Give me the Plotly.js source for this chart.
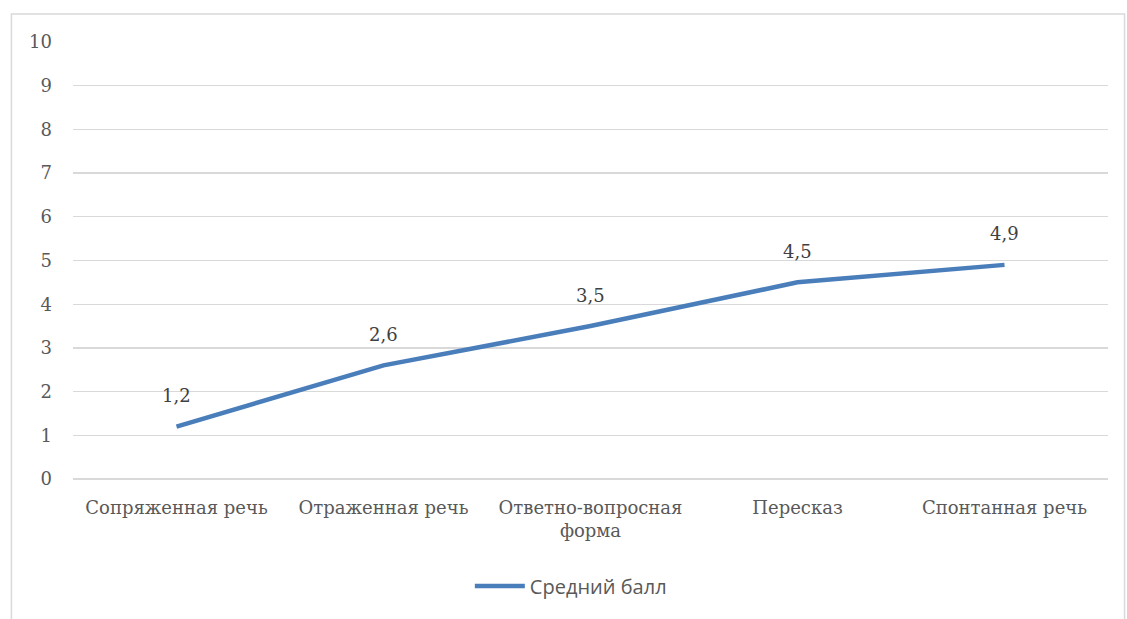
<!DOCTYPE html>
<html><head><meta charset="utf-8">
<script src="https://cdn.plot.ly/plotly-3.0.1.min.js"></script>
<style>html,body{margin:0;padding:0;background:#fff}#chart{width:1127px;height:619px}</style>
</head><body><div id="chart"></div>
<script>
var categories = ["Сопряженная речь", "Отраженная речь", "Ответно-вопросная<br>форма", "Пересказ", "Спонтанная речь"];
var values = [1.2, 2.6, 3.5, 4.5, 4.9];
var labels = ["1,2", "2,6", "3,5", "4,5", "4,9"];
var seriesName = "Средний балл";
var yTicks = [0,1,2,3,4,5,6,7,8,9,10];

var SERIF = "DejaVu Serif";
var trace = {
  x: categories, y: values, type: "scatter", mode: "lines", name: seriesName,
  line: {color: "#4a7ebb", width: 4.5}, hoverinfo: "none"
};
var annotations = categories.map(function(c, i){
  return {x: c, y: values[i], text: labels[i], showarrow: false, yshift: 31,
    font: {family: SERIF, size: 18, color: "#404040"}};
});
var layout = {
  width: 1127, height: 619,
  margin: {l: 73, r: 19, t: 42, b: 140},
  paper_bgcolor: "#fff", plot_bgcolor: "#fff",
  showlegend: true,
  legend: {orientation: "h", x: 0.481, xanchor: "center", y: -0.245, yanchor: "middle",
    itemwidth: 50,
    font: {family: "Open Sans", size: 20, color: "#595959"}},
  xaxis: {type: "category", showgrid: false, zeroline: false, showline: false, ticks: "",
    tickfont: {family: SERIF, size: 18, color: "#595959"},
    ticklabelstandoff: 16, range: [-0.5, 4.5]},
  yaxis: {range: [0, 10], tickvals: yTicks, showgrid: true, gridcolor: "#d9d9d9", gridwidth: 1.3,
    zeroline: true, zerolinecolor: "#d9d9d9", zerolinewidth: 1.3, showline: false, ticks: "",
    tickfont: {family: SERIF, size: 18, color: "#595959"},
    ticklabelstandoff: 20},
  annotations: annotations,
  shapes: [{type: "rect", xref: "paper", yref: "paper", x0: -0.0595, x1: 1.016, y0: -0.4, y1: 1.064,
    line: {color: "#d9d9d9", width: 1.5}, fillcolor: "rgba(0,0,0,0)", layer: "below"}]
};
Plotly.newPlot("chart", [trace], layout, {displayModeBar: false, staticPlot: true});
</script></body></html>
